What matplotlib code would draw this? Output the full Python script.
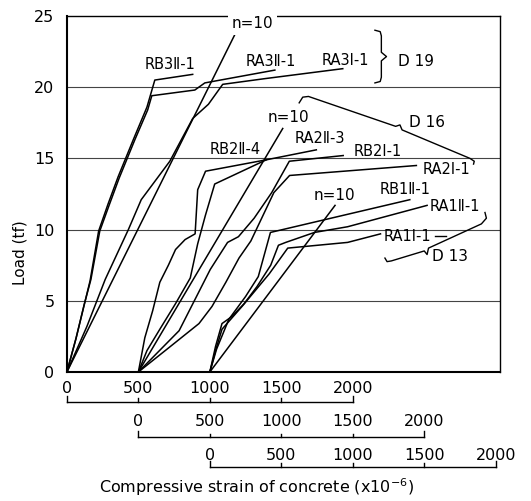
import numpy as np
import matplotlib
matplotlib.use('Agg')
import matplotlib.pyplot as plt
import matplotlib.transforms as mtransforms

plt.rcParams['font.family'] = ['DejaVu Sans', 'Noto Sans CJK JP']

# ---- data (strain x10^-6, load tf) ----
# D19 group, strain origin at 0
rb3ii1_x = [0, 62, 116, 162, 222, 288, 358, 468, 560, 615, 880]
rb3ii1_y = [0, 2.3, 4.5, 6.4, 9.9, 11.8, 13.7, 16.4, 18.6, 20.5, 20.9]
ra3ii1_x = [0, 65, 120, 168, 230, 295, 365, 475, 565, 594, 895, 965, 1455]
ra3ii1_y = [0, 2.4, 4.7, 6.5, 9.9, 11.7, 13.6, 16.3, 18.4, 19.4, 19.8, 20.3, 21.2]
ra3i1_x = [0, 140, 268, 430, 520, 720, 880, 990, 1090, 1385, 1930]
ra3i1_y = [0, 3.2, 6.5, 10.0, 12.1, 14.8, 17.8, 18.8, 20.2, 20.6, 21.3]
n10_d19_x = [0, 1190]
n10_d19_y = [0, 24.0]

# D16 group, strain origin at 500
rb2ii4_x = [500, 545, 600, 650, 710, 760, 827, 897, 915, 970, 1395]
rb2ii4_y = [0, 2.4, 4.3, 6.3, 7.5, 8.6, 9.3, 9.7, 12.8, 14.1, 14.9]
ra2ii3_x = [500, 560, 650, 760, 863, 915, 969, 1034, 1395, 1745]
ra2ii3_y = [0, 1.5, 3.0, 4.8, 6.6, 9.0, 11.0, 13.2, 14.9, 15.6]
rb2i1_x = [500, 785, 1003, 1124, 1200, 1310, 1433, 1556, 1933]
rb2i1_y = [0, 2.9, 7.2, 9.1, 9.5, 10.8, 12.6, 14.8, 15.2]
ra2i1_x = [500, 700, 924, 1015, 1112, 1204, 1287, 1448, 1558, 2445]
ra2i1_y = [0, 1.6, 3.4, 4.6, 6.3, 8.0, 9.2, 12.6, 13.8, 14.5]
n10_d16_x = [500, 1510]
n10_d16_y = [0, 17.1]

# D13 group, strain origin at 1000
rb1ii1_x = [1000, 1047, 1133, 1250, 1339, 1424, 2399]
rb1ii1_y = [0, 1.6, 3.7, 5.3, 6.7, 9.8, 12.1]
ra1ii1_x = [1000, 1040, 1085, 1155, 1240, 1330, 1426, 1480, 1531, 1732, 1964, 2520]
ra1ii1_y = [0, 1.8, 3.4, 3.9, 4.8, 6.0, 7.5, 8.9, 9.1, 9.8, 10.2, 11.7]
ra1i1_x = [1000, 1040, 1085, 1225, 1416, 1545, 1964, 2194]
ra1i1_y = [0, 1.5, 3.0, 4.6, 6.9, 8.7, 9.1, 9.7]
n10_d13_x = [1000, 1876]
n10_d13_y = [0, 11.7]

curves = [
    (rb3ii1_x, rb3ii1_y), (ra3ii1_x, ra3ii1_y), (ra3i1_x, ra3i1_y), (n10_d19_x, n10_d19_y),
    (rb2ii4_x, rb2ii4_y), (ra2ii3_x, ra2ii3_y), (rb2i1_x, rb2i1_y), (ra2i1_x, ra2i1_y), (n10_d16_x, n10_d16_y),
    (rb1ii1_x, rb1ii1_y), (ra1ii1_x, ra1ii1_y), (ra1i1_x, ra1i1_y), (n10_d13_x, n10_d13_y),
]

# specimen labels and their anchor (strain, load)
spec_labels = ['RB3Ⅱ-1', 'RA3Ⅱ-1', 'RA3Ⅰ-1', 'RB2Ⅱ-4', 'RA2Ⅱ-3', 'RB2Ⅰ-1', 'RA2Ⅰ-1',
               'RB1Ⅱ-1', 'RA1Ⅱ-1', 'RA1Ⅰ-1']
spec_x = [720, 1430, 1950, 1177, 1770, 2178, 2655, 2367, 2712, 2383]
spec_y = [21.6, 21.8, 21.9, 15.6, 16.4, 15.5, 14.2, 12.8, 11.6, 9.5]

n10_x = [1550, 1875]
n10_y = [17.9, 12.4]

group_labels = ['D 19', 'D 16', 'D 13']
group_x = [2440, 2517, 2683]
group_y = [21.8, 17.5, 8.1]

y_ticks = [0, 5, 10, 15, 20, 25]
grid_loads = [5, 10, 15, 20]
scale_ticks = [0, 500, 1000, 1500, 2000]
scale_offsets = [0, 500, 1000]

fig = plt.figure(figsize=(5.31, 5.01), dpi=100)
ax = fig.add_axes([0.126, 0.2575, 0.8156, 0.7106])
ax.set_xlim(0, 3030)
ax.set_ylim(0, 25)

for g in grid_loads:
    ax.axhline(g, color='#444444', lw=0.8, zorder=1)

for xs, ys in curves:
    ax.plot(xs, ys, color='black', lw=1.1, zorder=3)

for s, x, y in zip(spec_labels, spec_x, spec_y):
    ax.text(x, y, s, ha='center', va='center', fontsize=10.5, zorder=5)

for x, y in zip(n10_x, n10_y):
    ax.text(x, y, 'n=10', ha='center', va='center', fontsize=11, zorder=5)
# the n=10 for D19 breaks the top border
ax.text(1300, 24.45, 'n=10', ha='center', va='center', fontsize=11, zorder=6, clip_on=False,
        bbox=dict(facecolor='white', edgecolor='none', pad=2.5))

for s, x, y in zip(group_labels, group_x, group_y):
    ax.text(x, y, s, ha='center', va='center', fontsize=11, zorder=5)

# brace for D19
bx, by0, by1, bw = 2200, 20.3, 24.0, 45
bm = (by0 + by1) / 2
ax.plot([bx - bw, bx - 8, bx, bx, bx + bw * 0.8, bx, bx, bx - 8, bx - bw],
        [by1, by1 - 0.1, by1 - 0.4, bm + 0.3, bm, bm - 0.3, by0 + 0.4, by0 + 0.1, by0],
        color='black', lw=1.0, zorder=4)

# bracket for D16 (diagonal)
ax.plot([1625, 1650, 1690, 2300, 2330, 2345, 2820, 2850, 2845],
        [18.9, 19.3, 19.35, 17.25, 17.35, 17.0, 15.0, 14.8, 14.6],
        color='black', lw=1.0, zorder=4)
# bracket for D13 (diagonal)
ax.plot([2225, 2240, 2270, 2500, 2520, 2530, 2900, 2935, 2925],
        [8.0, 7.75, 7.8, 8.5, 8.25, 8.7, 10.4, 10.8, 11.2],
        color='black', lw=1.0, zorder=4)
ax.plot([2575, 2650], [9.55, 9.55], color='black', lw=1.0, zorder=4)

ax.set_yticks(y_ticks)
ax.set_xticks([])
ax.tick_params(axis='y', length=0, pad=9, labelsize=11.5)
for side in ['left', 'bottom']:
    ax.spines[side].set_linewidth(1.5)
for side in ['top', 'right']:
    ax.spines[side].set_linewidth(1.0)

# three strain scales under the axis, one per group
trans = mtransforms.blended_transform_factory(ax.transData, fig.transFigure)
label_rows = [0.2255, 0.1577, 0.0918]
line_rows = [0.1976, 0.1277, 0.0679]
for off, ly, ry in zip(scale_offsets, label_rows, line_rows):
    ax.plot([off + scale_ticks[0], off + scale_ticks[-1]], [ry, ry], transform=trans,
            color='black', lw=1.0, clip_on=False)
    for t in scale_ticks:
        h = 0.012 if t in (scale_ticks[0], scale_ticks[-1]) else 0.007
        ax.plot([off + t, off + t], [ry, ry + h], transform=trans,
                color='black', lw=1.0, clip_on=False)
        ax.text(off + t, ly, str(t), transform=trans, ha='center', va='center', fontsize=11.5)

fig.text(0.038, 0.495, 'Load (tf)', rotation=90, ha='center', va='center', fontsize=11)
fig.text(0.484, 0.028, 'Compressive strain of concrete (x10$^{-6}$)', ha='center', va='center',
         fontsize=11.5)

fig.savefig('out.png', dpi=100)
